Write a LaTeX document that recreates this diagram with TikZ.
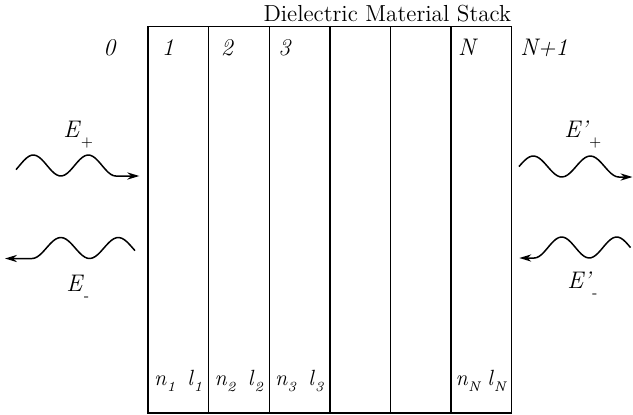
\documentclass[tikz,border=0pt]{standalone}
\usepackage{amsmath}
\usetikzlibrary{arrows.meta, calc}

\newcommand{\wsub}[2][-4.5pt]{\raisebox{#1}{\scriptsize #2}}

\begin{document}
\begin{tikzpicture}[>={Stealth[length=6pt, width=3.6pt]}, x=0.5pt, y=-0.5pt,
    font=\fontsize{11}{13}\selectfont,
    stackline/.style={line width=0.7pt},
    wave/.style={->, line width=0.75pt},
    lbl/.style={anchor=base, inner sep=0pt, font=\large},
    elbl/.style={anchor=base west, inner sep=0pt, font=\large}]
    % ================= Parameters =================
    \def\L{148}      % Left edge of the stack
    \def\T{26.7}     % Top edge of the stack
    \def\B{413}      % Bottom edge of the stack
    \def\D{60.6}     % Width of one layer
    \def\A{10.5}     % Wave amplitude

    % Canvas
    \path[use as bounding box] (0,0) rectangle (633,414);

    % Define key coordinates
    \coordinate (TL) at (\L,\T);
    \coordinate (TR) at ({\L+6*\D},\T);
    \coordinate (BR) at ({\L+6*\D},\B);

    % Arrow tips of the waves
    \coordinate (Ep tip) at (139.3,176);
    \coordinate (Em tip) at (5,258.5);
    \coordinate (Epp tip) at (632.5,177);
    \coordinate (Epm tip) at (519.3,258);

    % ================= Stack =================
    \draw[stackline] (TL) rectangle (BR);
    \foreach \i in {1,...,5}
        \draw[stackline] ({\L+\i*\D},\T) -- ({\L+\i*\D},\B);

    \node[anchor=base east, inner sep=0pt, font=\fontsize{11.6}{14}\selectfont] (title)
        at ($(TR)+(0,-5)$) {Dielectric Material Stack};

    % ================= Layer indices =================
    \node[lbl] (m0) at (110,55) {\textit{0}};
    \node[lbl] (m1) at (168,55) {\textit{1}};
    \node[lbl] (m2) at (227.5,55) {\textit{2}};
    \node[lbl] (m3) at (285,55) {\textit{3}};
    \node[lbl] (mN) at (468,55) {\textit{N}};
    \node[lbl] (mN1) at (544,55) {\textit{N+1}};

    % ================= Index and thickness =================
    \foreach \i/\s/\g in {1/1/6pt, 2/2/6pt, 3/3/6pt, 6/N/3pt}
        \node[lbl, font=\fontsize{11}{13}\selectfont] (nl\i) at ({\L+(\i-0.5)*\D},385)
            {\textit{n}\wsub[-3pt]{\textit{\s}}\hspace{\g}\textit{l}\wsub[-3pt]{\textit{\s}}};

    % ================= Incoming side =================
    % E+ travelling right
    \draw[wave] plot[domain=16:115.8, samples=40, smooth]
        (\x, {165.5-\A*cos((\x-33.3)/55*360)}) -- (Ep tip);
    \node[elbl] (Ep) at (63,137) {\textit{E}\wsub{+}};

    % E- travelling left
    \draw[wave] plot[domain=135:32, samples=40, smooth]
        (\x, {248-\A*cos((\x-118.3)/57.5*360)}) -- (Em tip);
    \node[elbl] (Em) at (66,291.7) {\textit{E}\wsub{-}};

    % ================= Outgoing side =================
    % E'+ travelling right
    \draw[wave] plot[domain=519:618.8, samples=40, smooth]
        (\x, {166.5-\A*cos((\x-533.3)/57*360)}) -- (Epp tip);
    \node[elbl] (Epp) at (564,137) {\textit{E'}\wsub{+}};

    % E'- travelling left
    \draw[wave] plot[domain=630.5:534.2, samples=40, smooth]
        (\x, {247.5-\A*cos((\x-616.7)/55*360)}) -- (Epm tip);
    \node[elbl] (Epm) at (567,288) {\textit{E'}\wsub{-}};

\end{tikzpicture}
\end{document}
